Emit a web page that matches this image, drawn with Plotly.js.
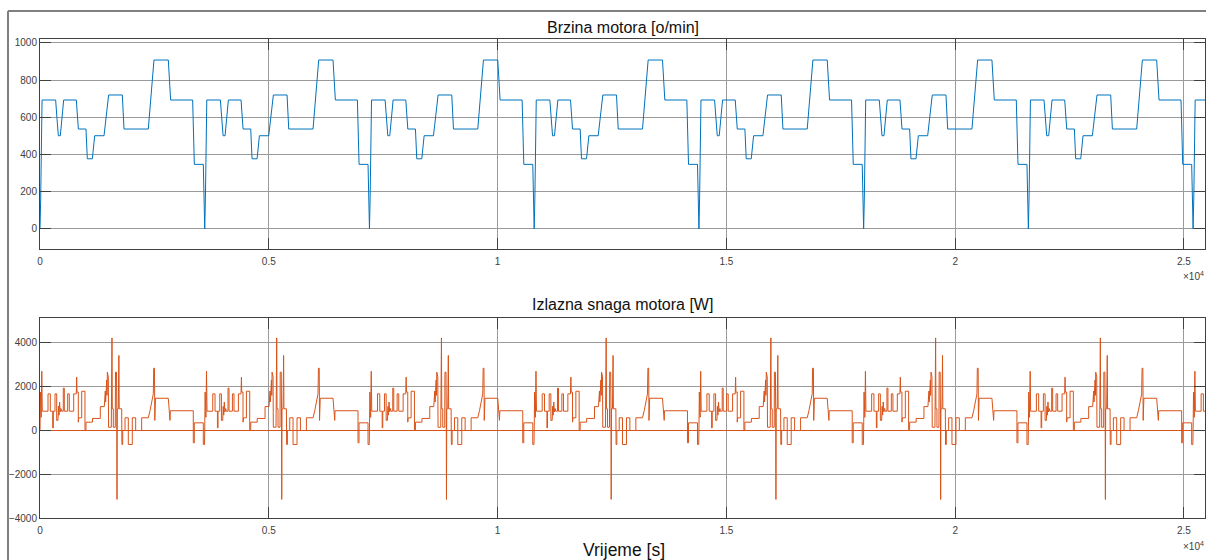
<!DOCTYPE html>
<html><head><meta charset="utf-8">
<script src="https://cdn.plot.ly/plotly-3.0.1.min.js"></script>
<style>html,body{margin:0;padding:0;background:#fff;} #chart{width:1206px;height:560px;}</style>
</head><body><div id="chart"></div>
<script>
// ---- data (one drive cycle, repeated in the recording) ----
const cyclePeriod = 3600;      // s
const cycleCount = 8;
const timeEnd = 25460;         // s, end of the recording

const speedCycleTime  = [0, 15, 45, 342, 372, 401, 444, 480, 517, 794, 815, 838, 1005, 1034, 1144, 1195, 1399, 1450, 1500, 1799, 1836, 2367, 2430, 2491, 2804, 2855, 3336, 3373, 3569, 3582, 3595];
const speedCycleValue = [0, 165, 693, 693, 590, 501, 501, 600, 693, 693, 600, 537, 537, 377, 377, 501, 501, 610, 720, 720, 537, 537, 720, 908, 908, 693, 693, 347, 347, 165, 0];

const powerCycleTime  = [0, 9, 26, 39, 50, 175, 175, 225, 225, 278, 278, 291, 291, 328, 328, 365, 365, 393, 404, 415, 428, 441, 459, 470, 509, 509, 531, 531, 605, 605, 640, 640, 736, 736, 793, 802, 809, 837, 837, 846, 911, 911, 983, 983, 1005, 1005, 1147, 1147, 1318, 1318, 1405, 1412, 1418, 1427, 1434, 1442, 1449, 1458, 1465, 1472, 1493, 1499, 1558, 1562, 1573, 1580, 1602, 1602, 1645, 1650, 1672, 1678, 1683, 1689, 1711, 1716, 1724, 1731, 1785, 1790, 1807, 1807, 1858, 1858, 1930, 1930, 2017, 2017, 2091, 2091, 2222, 2222, 2367, 2404, 2437, 2476, 2485, 2502, 2509, 2524, 2804, 2841, 2848, 3350, 3350, 3372, 3372, 3569, 3569, 3595];
const powerCycleValue = [0, 1750, 600, 2700, 880, 880, 1670, 1670, 880, 880, 120, 120, 880, 880, 1670, 1670, 460, 460, 1100, 700, 1300, 850, 1000, 880, 880, 1930, 1930, 880, 880, 1670, 1670, 880, 880, 1670, 1670, 2430, 1750, 1750, 380, 577, 577, 1790, 1790, 30, 30, 380, 380, 550, 550, 1090, 1090, 1500, 1150, 1800, 1300, 2000, 1500, 2300, 1600, 2660, 2450, 150, 150, 4220, 4220, 990, 990, 150, 150, 2660, 2660, 990, -3140, 990, 990, 3420, 3420, 990, 990, -640, -640, 0, 0, 580, 580, -640, -640, 580, 580, 0, 0, 580, 580, 900, 1300, 1670, 2840, 2840, 460, 1470, 1470, 460, 900, 900, -560, -560, 350, 350, -640, -640];
const powerBaseline = 0;

const xTickValues = [0, 5000, 10000, 15000, 20000, 25000];
const xTickLabels = ['0', '0.5', '1', '1.5', '2', '2.5'];
const speedTicks = [0, 200, 400, 600, 800, 1000];
const powerTicks = [-4000, -2000, 0, 2000, 4000];

const titleSpeed = 'Brzina motora [o/min]';
const titlePower = 'Izlazna snaga motora [W]';
const xLabel = 'Vrijeme [s]';

// ---- build repeated series ----
function tile(times, values) {
  const x = [], y = [];
  outer:
  for (let k = 0; k < cycleCount; k++) {
    for (let i = 0; i < times.length; i++) {
      const t = times[i] + k * cyclePeriod;
      x.push(t); y.push(values[i]);
      if (t > timeEnd) break outer;
    }
  }
  return {x, y};
}
const sp = tile(speedCycleTime, speedCycleValue);
const pw = tile(powerCycleTime, powerCycleValue);

const W = 1206, H = 560;
const px = v => v / W;
const py = v => 1 - v / H;

const axisCommon = {
  ticks: 'inside', ticklen: 11, tickwidth: 1, tickcolor: '#404040',
  showline: true, linecolor: '#404040', linewidth: 1, mirror: 'ticks',
  showgrid: true, gridcolor: '#9a9a9a', gridwidth: 1, zeroline: false,
  tickfont: {family: 'Liberation Sans, Arial, sans-serif', size: 10, color: '#404040'}
};

const traces = [
  {x: sp.x, y: sp.y, xaxis: 'x', yaxis: 'y', type: 'scatter', mode: 'lines',
   line: {color: '#0072BD', width: 1}, hoverinfo: 'skip'},
  {x: [0, timeEnd], y: [powerBaseline, powerBaseline], xaxis: 'x2', yaxis: 'y2', type: 'scatter', mode: 'lines',
   line: {color: '#D95319', width: 1}, hoverinfo: 'skip'},
  {x: pw.x, y: pw.y, xaxis: 'x2', yaxis: 'y2', type: 'scatter', mode: 'lines',
   line: {color: '#D95319', width: 1}, hoverinfo: 'skip'}
];

const layout = {
  width: W, height: H, margin: {l: 0, r: 0, t: 0, b: 0},
  paper_bgcolor: '#ffffff', plot_bgcolor: '#ffffff', showlegend: false,
  font: {family: 'Liberation Sans, Arial, sans-serif', size: 10, color: '#404040'},
  xaxis: Object.assign({}, axisCommon, {domain: [px(40), px(1205)], anchor: 'y', range: [0, timeEnd],
    tickmode: 'array', tickvals: xTickValues, ticktext: xTickLabels, ticklabelstandoff: 3}),
  yaxis: Object.assign({}, axisCommon, {domain: [py(249), py(39)], anchor: 'x', range: [-108, 1021],
    tickmode: 'array', tickvals: speedTicks}),
  xaxis2: Object.assign({}, axisCommon, {domain: [px(40), px(1205)], anchor: 'y2', range: [0, timeEnd],
    tickmode: 'array', tickvals: xTickValues, ticktext: xTickLabels, ticklabelstandoff: 3}),
  yaxis2: Object.assign({}, axisCommon, {domain: [py(518.3), py(317.7)], anchor: 'x2', range: [-4000, 5140],
    tickmode: 'array', tickvals: powerTicks}),
  annotations: [
    {text: titleSpeed, xref: 'paper', yref: 'paper', x: px(622.5), y: py(27), xanchor: 'center', yanchor: 'middle',
     showarrow: false, font: {size: 16, color: '#111111'}},
    {text: titlePower, xref: 'paper', yref: 'paper', x: px(622.5), y: py(304), xanchor: 'center', yanchor: 'middle',
     showarrow: false, font: {size: 16, color: '#111111'}},
    {text: xLabel, xref: 'paper', yref: 'paper', x: px(624), y: py(550), xanchor: 'center', yanchor: 'middle',
     showarrow: false, font: {size: 17.5, color: '#111111'}},
    {text: '×10<sup>4</sup>', xref: 'paper', yref: 'paper', x: px(1193), y: py(276), xanchor: 'center', yanchor: 'middle',
     showarrow: false, font: {size: 10, color: '#404040'}},
    {text: '×10<sup>4</sup>', xref: 'paper', yref: 'paper', x: px(1193), y: py(546), xanchor: 'center', yanchor: 'middle',
     showarrow: false, font: {size: 10, color: '#404040'}}
  ],
  shapes: [
    {type: 'line', xref: 'paper', yref: 'paper', x0: px(8), x1: px(8), y0: py(11), y1: -0.05, line: {color: '#808080', width: 2}},
    {type: 'line', xref: 'paper', yref: 'paper', x0: px(8), x1: 1.05, y0: py(11), y1: py(11), line: {color: '#808080', width: 2}}
  ]
};

Plotly.newPlot('chart', traces, layout, {staticPlot: true, displayModeBar: false});
</script>
</body></html>
